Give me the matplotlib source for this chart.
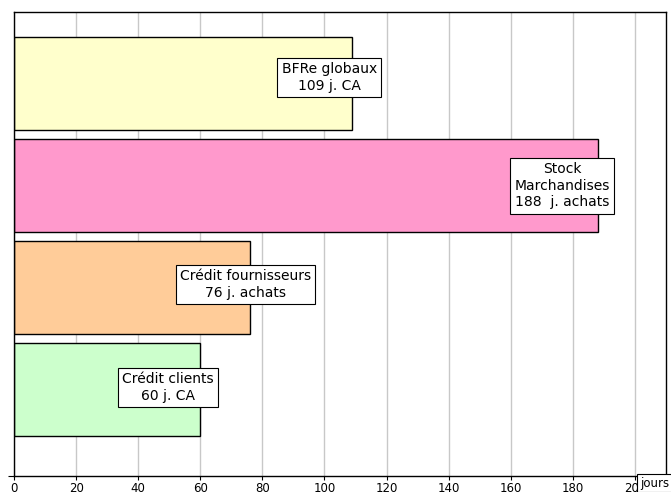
import matplotlib
matplotlib.use('Agg')
import matplotlib.pyplot as plt

# Données (bas -> haut)
categories = ['Crédit clients', 'Crédit fournisseurs', 'Stock Marchandises', 'BFRe globaux']
jours = [60, 76, 188, 109]
etiquettes = ['Crédit clients\n60 j. CA',
              'Crédit fournisseurs\n76 j. achats',
              'Stock\nMarchandises\n188  j. achats',
              'BFRe globaux\n109 j. CA']
couleurs = ['#CCFFCC', '#FFCC99', '#FF99CC', '#FFFFCC']
pos_etiq_x = [49.5, 74.5, 176.5, 101.5]
pos_etiq_y = [0.02, 1.03, 2.0, 3.06]
ticks_x = list(range(0, 201, 20))

plt.rcParams['font.family'] = ['DejaVu Sans']

fig = plt.figure(figsize=(6.71, 4.92), dpi=100)
ax = fig.add_axes([14 / 671, 1 - 476 / 492, (666 - 14) / 671, (476 - 12) / 492])

y = list(range(len(categories)))
ax.barh(y, jours, height=0.91, color=couleurs, edgecolor='black', linewidth=1, zorder=2)

for xe, ye, txt in zip(pos_etiq_x, pos_etiq_y, etiquettes):
    ax.text(xe, ye, txt, ha='center', va='center', fontsize=10, zorder=4,
            linespacing=1.25,
            bbox=dict(boxstyle='square,pad=0.3', facecolor='white', edgecolor='black', linewidth=0.8))

ax.set_xlim(0, 210)
ax.set_ylim(-0.843, 3.70)
ax.set_xticks(ticks_x)
ax.set_xticklabels([str(t) for t in ticks_x], fontsize=8.5)
ax.set_yticks([-0.843])
ax.set_yticklabels([''])
ax.tick_params(axis='x', length=3, pad=1.5)
ax.tick_params(axis='y', length=4)
ax.xaxis.grid(True, color='#c8c8c8', linewidth=1, zorder=0)
ax.set_axisbelow(True)
for s in ax.spines.values():
    s.set_color('black')
    s.set_linewidth(1)

fig.text(640 / 671, 1 - 483 / 492, 'jours', ha='left', va='center', fontsize=8.5,
         bbox=dict(boxstyle='square,pad=0.25', facecolor='white', edgecolor='black', linewidth=0.8))

fig.savefig('out.png', dpi=100)
